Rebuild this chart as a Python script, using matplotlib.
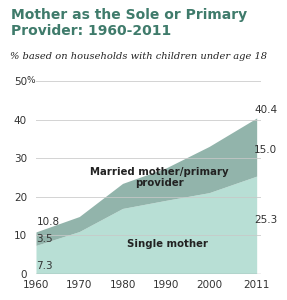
import numpy as np
import matplotlib.pyplot as plt

# Share of households with children under 18 where mother is sole/primary provider
years = [1960, 1970, 1980, 1990, 2000, 2011]
single_mother = [7.3, 10.9, 16.9, 19.0, 21.0, 25.3]
total = [10.8, 14.8, 23.4, 27.4, 33.0, 40.4]
married_mother = [3.5, 3.9, 6.5, 8.4, 12.0, 15.0]   # as printed on the chart

yticks = [0, 10, 20, 30, 40, 50]
ytick_labels = ['0', '10', '20', '30', '40', '50']
xticks = [1960, 1970, 1980, 1990, 2000, 2011]

title_color = '#3f7b6b'
single_color = '#b8dfd5'
married_color = '#92b4ab'
text_color = '#333333'

fig = plt.figure(figsize=(2.87, 3.0), dpi=100)
ax = fig.add_axes([0.1254, 0.0883, 0.784, 0.6417])

ax.fill_between(years, 0, single_mother, color=single_color, lw=0, zorder=1)
ax.fill_between(years, single_mother, total, color=married_color, lw=0, zorder=1)

for y in yticks[1:]:
    ax.axhline(y, color='#c8c8c8', lw=0.7, alpha=0.8, zorder=2)
ax.axhline(0, color='#888888', lw=0.9, zorder=3)

ax.set_xlim(1960, 2012)
ax.set_ylim(0, 50)
ax.set_yticks(yticks)
ax.set_yticklabels(ytick_labels)
ax.set_xticks(xticks)
ax.set_xticklabels([str(x) for x in xticks])
ax.tick_params(length=0, labelsize=7.5, colors=text_color, pad=5)
ax.tick_params(axis='y', pad=6.5)
for s in ax.spines.values():
    s.set_visible(False)
# percent sign hanging after the top tick label
ax.annotate('%', xy=(0, 50), xycoords=('axes fraction', 'data'), xytext=(-6.5, 0),
            textcoords='offset points', fontsize=6.5, color=text_color,
            ha='left', va='center')

# value labels
fs = 7.5
ax.text(1960.1, 13.5, f'{total[0]:.1f}', fontsize=fs, color=text_color, va='center')
ax.text(1960.1, 9.0, f'{married_mother[0]:.1f}', fontsize=fs, color=text_color, va='center')
ax.text(1960.1, 2.0, f'{single_mother[0]:.1f}', fontsize=fs, color=text_color, va='center')
ax.text(2010.4, 42.5, f'{total[-1]:.1f}', fontsize=fs, color=text_color, va='center')
ax.text(2010.4, 32.1, f'{married_mother[-1]:.1f}', fontsize=fs, color=text_color, va='center')
ax.text(2010.4, 13.9, f'{single_mother[-1]:.1f}', fontsize=fs, color=text_color, va='center')

ax.text(1988.6, 25.0, 'Married mother/primary\nprovider', fontsize=7.3, fontweight='bold',
        color='#222222', ha='center', va='center', linespacing=1.1)
ax.text(1990.4, 7.7, 'Single mother', fontsize=7.3, fontweight='bold',
        color='#222222', ha='center', va='center')

fig.text(0.04, 0.975, 'Mother as the Sole or Primary\nProvider: 1960-2011', fontsize=10,
         fontweight='bold', color=title_color, ha='left', va='top', linespacing=1.2)
fig.text(0.035, 0.81, '% based on households with children under age 18', fontsize=7.1,
         family='DejaVu Serif', style='italic', color='#222222', ha='left', va='center')

fig.savefig('out.png', dpi=100)
